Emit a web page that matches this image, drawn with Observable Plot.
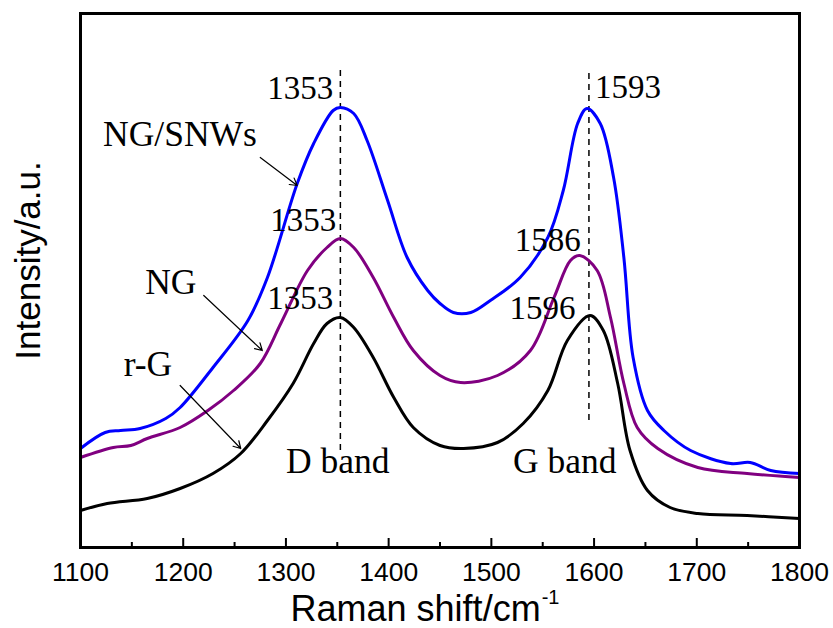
<!DOCTYPE html>
<html>
<head>
<meta charset="utf-8">
<script src="https://cdn.jsdelivr.net/npm/d3@7"></script>
<script src="https://cdn.jsdelivr.net/npm/@observablehq/plot@0.6"></script>
<style>
  html, body { margin: 0; padding: 0; background: #fff; }
</style>
</head>
<body>
<div id="chart"></div>
<script>
// Raman shift (cm^-1) and intensity (a.u., arbitrary offset units)
const ngsnwShift = [1100,1124,1139,1158,1183,1197,1229,1263,1282,1311,1327,1346,1353,1366,1379,1399,1418,1438,1450,1463,1480,1499,1528,1555,1570,1584,1593,1606,1619,1629,1638,1652,1668,1694,1733,1752,1772,1800];
const ngsnwInt   = [99,115,117,119,129,140,180,227,270,364,404,437,440,434,407,347,290,257,244,235,235,247,270,310,357,424,439,424,370,290,190,137,117,97,84,85,77,74];

const ngShift = [1100,1132,1149,1165,1197,1224,1249,1275,1295,1321,1340,1353,1366,1385,1405,1424,1450,1470,1506,1538,1561,1577,1586,1603,1616,1629,1642,1662,1701,1749,1800];
const ngInt   = [90,100,102,109,120,137,157,184,224,277,300,309,300,270,230,197,172,165,172,197,250,287,292,277,230,164,120,99,80,74,70];

const rgShift = [1100,1126,1165,1197,1229,1256,1282,1307,1327,1340,1353,1366,1385,1405,1424,1450,1473,1506,1531,1555,1574,1596,1609,1623,1635,1652,1674,1701,1749,1800];
const rgInt   = [37,44,49,59,74,94,127,164,204,224,230,220,190,150,120,102,99,105,124,157,207,232,217,164,97,57,40,34,32,29];

const xTicks = [1100,1200,1300,1400,1500,1600,1700,1800];
const xMinorTicks = [1150,1250,1350,1450,1550,1650,1750];

// Peak annotations
const peakLabelsEnd = [
  {x: 1346, y: 449, text: "1353"},
  {x: 1349, y: 317, text: "1353"},
  {x: 1587, y: 297, text: "1586"},
  {x: 1346, y: 239, text: "1353"},
  {x: 1582, y: 229, text: "1596"}
];
const peakLabelsStart = [
  {x: 1601, y: 450, text: "1593"}
];
const seriesLabels = [
  {x: 1122, y: 402, text: "NG/SNWs"},
  {x: 1163, y: 254, text: "NG"},
  {x: 1142, y: 172, text: "r-G"},
  {x: 1300, y: 75, text: "D band"},
  {x: 1521, y: 75, text: "G band"}
];
const arrows = [
  {x1: 1275, y1: 390, x2: 1311, y2: 362},
  {x1: 1220, y1: 252, x2: 1277, y2: 197},
  {x1: 1197, y1: 162, x2: 1256, y2: 99}
];
const bandLines = [
  {x: 1353, y1: 97, y2: 477},
  {x: 1595, y1: 127, y2: 474}
];

const toRows = (xs, ys) => xs.map((x, i) => ({x, y: ys[i]}));
const ngsnw = toRows(ngsnwShift, ngsnwInt);
const ng = toRows(ngShift, ngInt);
const rg = toRows(rgShift, rgInt);

const serif = "Liberation Serif, Times New Roman, serif";
const sans = "Liberation Sans, Arial, sans-serif";

const chart = Plot.plot({
  width: 833,
  height: 628,
  marginLeft: 80,
  marginRight: 34,
  marginTop: 13,
  marginBottom: 81,
  style: {fontFamily: sans, fontSize: "25px", background: "white", color: "black"},
  x: {domain: [1100, 1800], axis: null},
  y: {domain: [0, 534], axis: null},
  marks: [
    Plot.ruleX(xTicks, {x: d => d, y1: 0, y2: 9, stroke: "black", strokeWidth: 2}),
    Plot.ruleX(xMinorTicks, {x: d => d, y1: 0, y2: 5, stroke: "black", strokeWidth: 2}),
    Plot.text(xTicks, {x: d => d, y: -33, text: d => String(d), textAnchor: "middle", lineAnchor: "bottom", fontFamily: sans, fontSize: 26.5, fill: "black"}),
    Plot.ruleX(bandLines, {x: "x", y1: "y1", y2: "y2", stroke: "black", strokeWidth: 1.5, strokeDasharray: "6,5"}),
    Plot.line(rg, {x: "x", y: "y", stroke: "black", strokeWidth: 3, curve: "catmull-rom"}),
    Plot.line(ng, {x: "x", y: "y", stroke: "#800080", strokeWidth: 3, curve: "catmull-rom"}),
    Plot.line(ngsnw, {x: "x", y: "y", stroke: "#0000ff", strokeWidth: 3, curve: "catmull-rom"}),
    Plot.arrow(arrows, {x1: "x1", y1: "y1", x2: "x2", y2: "y2", stroke: "black", strokeWidth: 1.2, headLength: 10, bend: 0}),
    Plot.text(peakLabelsEnd, {x: "x", y: "y", text: "text", textAnchor: "end", lineAnchor: "bottom", fontFamily: serif, fontSize: 33, fill: "black"}),
    Plot.text(peakLabelsStart, {x: "x", y: "y", text: "text", textAnchor: "start", lineAnchor: "bottom", fontFamily: serif, fontSize: 33, fill: "black"}),
    Plot.text(seriesLabels, {x: "x", y: "y", text: "text", textAnchor: "start", lineAnchor: "bottom", fontFamily: serif, fontSize: 35.5, fill: "black"}),
    Plot.text(["Raman shift/cm"], {x: 1304.5, y: -73, text: d => d, textAnchor: "start", lineAnchor: "bottom", fontFamily: sans, fontSize: 36, fill: "black"}),
    Plot.text(["-1"], {x: 1549, y: -56, text: d => d, textAnchor: "start", lineAnchor: "bottom", fontFamily: sans, fontSize: 20, fill: "black"}),
    Plot.text(["Intensity/a.u."], {x: 1061, y: 287, text: d => d, rotate: -90, textAnchor: "middle", lineAnchor: "bottom", fontFamily: sans, fontSize: 35, fill: "black"}),
    Plot.frame({stroke: "black", strokeWidth: 3})
  ]
});
document.getElementById("chart").appendChild(chart);
</script>
</body>
</html>
